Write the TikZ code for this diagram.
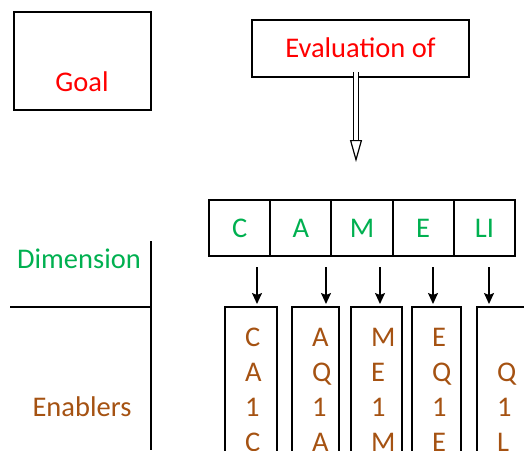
\documentclass[tikz,border=0pt]{standalone}
\usepackage{fontspec}
\setmainfont{Carlito}
\usetikzlibrary{arrows.meta}
\definecolor{goalred}{RGB}{255,0,0}
\definecolor{dimgreen}{RGB}{0,176,80}
\definecolor{enbrown}{RGB}{165,82,18}
\tikzset{
  txt/.style={font=\fontsize{28.5}{34}\selectfont, text height=18.3pt, text depth=0pt, inner sep=0pt},
  box/.style={draw, line width=2pt, inner sep=0pt, outer sep=0pt},
  dimcell/.style={box, txt, text=dimgreen, minimum width=61.2pt, minimum height=56pt},
  enbox/.style={box, anchor=north west, minimum height=200pt},
  down/.style={-{Stealth[length=11pt,width=10pt,inset=2pt]}, line width=1.5pt, shorten >=3pt},
}
\begin{document}
\begin{tikzpicture}[x=1pt,y=-1pt]
  \useasboundingbox (0,0) rectangle (524,450);
  \clip (0,0) rectangle (524,450);
  % goal
  \node[box, minimum width=137pt, minimum height=98pt] (goalbox) at (82.5,61) {};
  \node[txt, text=goalred] (goal) at (82,82) {Goal};
  % evaluation
  \node[box, txt, text=goalred, minimum width=217pt, minimum height=57pt] (eval) at (360.5,48.5) {Evaluation of};
  \coordinate (evalout) at (356,72);
  \coordinate (evalin) at (356,162);
  \draw[double, double distance=3.5pt, line width=1.2pt, -{Triangle[open, length=22pt, width=12pt]}] (evalout) -- (evalin);
  % dimensions
  \foreach \t [count=\i] in {C,A,M,E,LI}
    \node[dimcell] (dim\i) at ({209+61.2*\i-30.6},228) {\t};
  % enablers
  \foreach \x/\w/\ax/\letters [count=\i] in {225/52/257/{C,A,1,C}, 292/47/326/{A,Q,1,A}, 351/51/380/{M,E,1,M}, 412/49/433/{E,Q,1,E}, 477/50/489/{{},Q,1,L}}{
    \node[enbox, minimum width=\w pt] (en\i) at (\x,307) {};
    \foreach \l [count=\r] in \letters
      \node[txt, text=enbrown, anchor=west] (en\i-\r) at ([xshift=20pt, yshift={-30pt-35pt*(\r-1)}]en\i.north west) {\l};
    \coordinate (ar\i) at (\ax,267);
    \draw[down] (ar\i) -- (ar\i |- en\i.north);
  }
  % left column
  \node[txt, text=dimgreen] (dimlabel) at (79,259) {Dimension};
  \node[txt, text=enbrown] (enlabel) at (82,407.5) {Enablers};
  \coordinate (vtop) at (151,241);
  \coordinate (vbot) at (151,450);
  \coordinate (hleft) at (10,307);
  \draw[line width=2pt] (vtop) -- (vbot);
  \draw[line width=2pt] (hleft) -- (hleft -| vtop);
\end{tikzpicture}
\end{document}
